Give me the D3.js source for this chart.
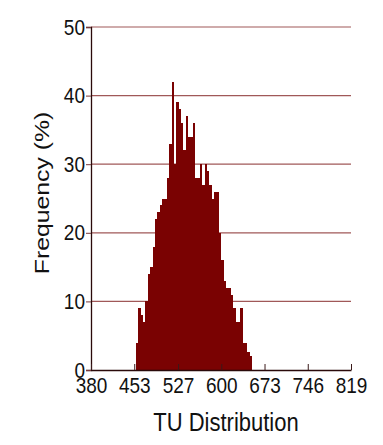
<!DOCTYPE html>
<html>
<head>
<meta charset="utf-8" />
<script src="https://d3js.org/d3.v7.min.js"></script>
<style>
  body { margin: 0; background: #fff; }
  svg { font-family: "Liberation Sans", Arial, sans-serif; }
</style>
</head>
<body>
<svg></svg>
<script>
// histogram bins (TU start of each bin, 4 units wide) and frequency in %
var binStart = 456;
var binWidth = 4;
var freq = [4, 9, 8, 7, 10, 14, 15, 18, 22, 23, 24, 25, 25, 28, 33, 42,
            30, 39, 38, 36, 32, 37, 34, 34, 36, 28, 28, 30, 27, 30, 29, 27,
            25, 26, 26, 20, 16, 13, 12, 12, 11, 9, 7, 7, 9, 4, 4, 2.6, 2];
var xTicks = [380, 453, 527, 600, 673, 746, 819];
var yTicks = [0, 10, 20, 30, 40, 50];

var bins = freq.map(function (f, i) {
  return { x0: binStart + i * binWidth, x1: binStart + (i + 1) * binWidth, f: f };
});

var width = 383, height = 445;
var stretch = 1.18; // text in the picture is a bit taller than wide
var svg = d3.select('svg').attr('width', width).attr('height', height);

var x = d3.scaleLinear().domain([380, 819]).range([91, 351]);
var y = d3.scaleLinear().domain([0, 50]).range([370, 27]);

// gridlines
svg.append('g')
  .selectAll('line')
  .data(yTicks.filter(function (d) { return d > 0; }))
  .enter().append('line')
  .attr('x1', x(380)).attr('x2', x(819))
  .attr('y1', function (d) { return y(d); })
  .attr('y2', function (d) { return y(d); })
  .attr('stroke', '#a05858')
  .attr('stroke-width', 1.2);

// bars
svg.append('g')
  .attr('shape-rendering', 'crispEdges')
  .selectAll('rect')
  .data(bins)
  .enter().append('rect')
  .attr('x', function (d) { return x(d.x0); })
  .attr('width', function (d) { return x(d.x1) - x(d.x0); })
  .attr('y', function (d) { return y(d.f); })
  .attr('height', function (d) { return y(0) - y(d.f); })
  .attr('fill', '#7a0202');

// y axis
var yAxis = svg.append('g')
  .attr('transform', 'translate(' + x(380) + ',0)')
  .call(d3.axisLeft(y).tickValues(yTicks).tickSize(5));
yAxis.select('.domain').attr('stroke', '#2a0a0a').attr('stroke-width', 1.3);
yAxis.selectAll('.tick line').attr('stroke', '#7a3a3a');
yAxis.selectAll('.tick text')
  .attr('font-size', 19).attr('fill', '#111')
  .attr('x', null).attr('dy', '0.36em')
  .attr('transform', 'translate(-6,-1) scale(1,' + stretch + ')');

// x axis, ticks pointing up
var xAxis = svg.append('g')
  .attr('transform', 'translate(0,' + y(0) + ')')
  .call(d3.axisBottom(x).tickValues(xTicks).tickSizeInner(-6).tickSizeOuter(0));
xAxis.select('.domain').attr('stroke', '#2a0a0a').attr('stroke-width', 1.3);
xAxis.selectAll('.tick line').attr('stroke', '#3a1a1a');
xAxis.selectAll('.tick text')
  .attr('font-size', 19).attr('fill', '#111')
  .attr('y', 0).attr('dy', 0)
  .attr('transform', 'translate(0,23) scale(1,' + stretch + ')');

// titles
svg.append('text')
  .attr('transform', 'translate(226,431) scale(1,' + stretch + ')')
  .attr('text-anchor', 'middle')
  .attr('font-size', 22)
  .attr('fill', '#111')
  .text('TU Distribution');

svg.append('text')
  .attr('transform', 'translate(49,193) scale(1,' + stretch + ') rotate(-90)')
  .attr('text-anchor', 'middle')
  .attr('font-size', 21)
  .attr('fill', '#111')
  .text('Frequency (%)');
</script>
</body>
</html>
